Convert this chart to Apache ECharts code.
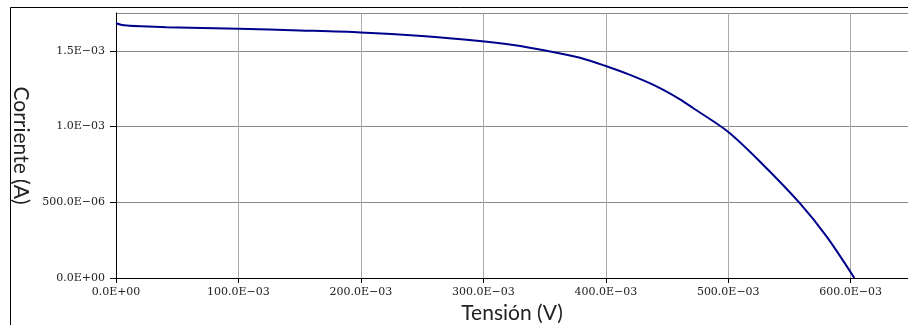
<!DOCTYPE html>
<html>
<head>
<meta charset="utf-8">
<script src="https://cdn.jsdelivr.net/npm/echarts@6/dist/echarts.min.js"></script>
<style>
html,body{margin:0;padding:0;background:#fff;}
#chart{width:908px;height:325px;}
</style>
</head>
<body>
<div id="chart"></div>
<script>
// Data (V, A)
var voltage = [0, 0.004, 0.009, 0.02, 0.041, 0.1, 0.15, 0.2, 0.25, 0.297, 0.3245, 0.3517, 0.3789, 0.4, 0.4198, 0.4402, 0.4606, 0.4715, 0.4998, 0.526, 0.5586, 0.5804, 0.603];
var current = [1.682e-3, 1.673e-3, 1.667e-3, 1.662e-3, 1.656e-3, 1.646e-3, 1.635e-3, 1.622e-3, 1.598e-3, 1.565e-3, 1.539e-3, 1.501e-3, 1.455e-3, 1.400e-3, 1.341e-3, 1.270e-3, 1.180e-3, 1.121e-3, 0.966e-3, 0.768e-3, 0.493e-3, 0.273e-3, 0];

var xTickValues = [0, 0.1, 0.2, 0.3, 0.4, 0.5, 0.6];
var xTickLabels = ['0.0E+00', '100.0E\u221203', '200.0E\u221203', '300.0E\u221203', '400.0E\u221203', '500.0E\u221203', '600.0E\u221203'];
var yTickValues = [0, 0.5e-3, 1.0e-3, 1.5e-3];
var yTickLabels = ['0.0E+00', '500.0E\u221206', '1.0E\u221203', '1.5E\u221203'];

function lookup(vals, labels, v) {
  for (var i = 0; i < vals.length; i++) {
    if (Math.abs(vals[i] - v) < 1e-9) return labels[i];
  }
  return '';
}

var points = voltage.map(function (v, i) { return [v, current[i]]; });

var chart = echarts.init(document.getElementById('chart'), null, {renderer: 'canvas'});
chart.setOption({
  animation: false,
  backgroundColor: '#ffffff',
  graphic: [
    {type: 'line', shape: {x1: 10.5, y1: 7.5, x2: 908, y2: 7.5}, style: {stroke: '#000', lineWidth: 1}, silent: true, z: -10},
    {type: 'line', shape: {x1: 10.5, y1: 7.5, x2: 10.5, y2: 325}, style: {stroke: '#000', lineWidth: 1}, silent: true, z: -10}
  ],
  grid: {left: 116, top: 13, bottom: 47, right: 0, containLabel: false, outerBoundsMode: 'none'},
  xAxis: {
    type: 'value',
    min: 0,
    max: 0.6468,
    interval: 0.1,
    name: 'Tensi\u00f3n (V)',
    nameLocation: 'middle',
    nameGap: 24,
    nameTextStyle: {fontFamily: 'Lato', fontSize: 21, color: '#222'},
    axisLine: {show: true, onZero: false, lineStyle: {color: '#000', width: 1}},
    axisTick: {show: true, length: 5, lineStyle: {color: '#000'}},
    axisLabel: {
      showMaxLabel: false,
      margin: 9,
      fontFamily: 'DejaVu Serif',
      fontSize: 11,
      color: '#222',
      formatter: function (v) { return lookup(xTickValues, xTickLabels, v); }
    },
    splitLine: {show: true, showMaxLine: false, lineStyle: {color: '#aaaaaa', width: 1}}
  },
  yAxis: {
    type: 'value',
    min: 0,
    max: 1.75e-3,
    interval: 0.5e-3,
    name: 'Corriente (A)',
    nameLocation: 'middle',
    nameRotate: -90,
    nameGap: 83,
    nameTextStyle: {fontFamily: 'Lato', fontSize: 21, color: '#222'},
    axisLine: {show: true, onZero: false, lineStyle: {color: '#000', width: 1}},
    axisTick: {show: true, length: 6, lineStyle: {color: '#000'}},
    axisLabel: {
      showMaxLabel: false,
      margin: 11,
      fontFamily: 'DejaVu Serif',
      fontSize: 11,
      color: '#222',
      formatter: function (v) { return lookup(yTickValues, yTickLabels, v); }
    },
    splitLine: {show: true, lineStyle: {color: '#888888', width: 1}}
  },
  series: [{
    type: 'line',
    data: points,
    smooth: 0.3,
    showSymbol: false,
    lineStyle: {color: '#00008b', width: 2},
    clip: true
  }]
});
</script>
</body>
</html>
